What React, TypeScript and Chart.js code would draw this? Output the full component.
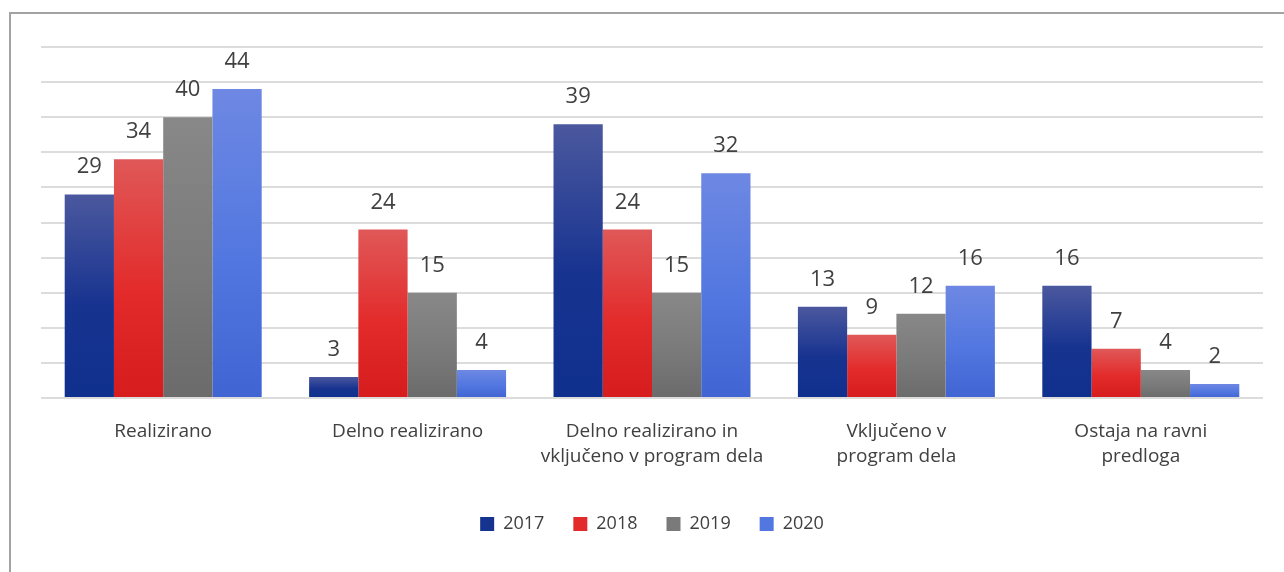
import React, { useEffect, useRef } from "react";
import { Chart, registerables } from "chart.js";

Chart.register(...registerables);

const categories: (string | string[])[] = [
  "Realizirano",
  "Delno realizirano",
  ["Delno realizirano in", "vključeno v program dela"],
  ["Vključeno v", "program dela"],
  ["Ostaja na ravni", "predloga"],
];
const years = ["2017", "2018", "2019", "2020"];
const values2017 = [29, 3, 39, 13, 16];
const values2018 = [34, 24, 24, 9, 7];
const values2019 = [40, 15, 15, 12, 4];
const values2020 = [44, 4, 32, 16, 2];

const palette = [
  ["#4b589e", "#173390", "#10308e"],
  ["#e05858", "#e32b2b", "#d61c1c"],
  ["#888888", "#7a7a7a", "#6b6b6b"],
  ["#6e88e3", "#5277e0", "#4064d2"],
];

const FONT = "'Open Sans', 'Noto Sans', sans-serif";
const TEXT = "#404040";

const grad = (cols: string[]) => (ctx: any) => {
  const chart = ctx.chart;
  if (!chart.chartArea || ctx.type !== "data") return cols[2];
  const y = chart.scales.y;
  const y0 = y.getPixelForValue(ctx.raw as number);
  const y1 = y.getPixelForValue(0);
  if (!isFinite(y0) || !isFinite(y1) || y0 === y1) return cols[2];
  const g = chart.ctx.createLinearGradient(0, y0, 0, y1);
  g.addColorStop(0, cols[0]);
  g.addColorStop(0.55, cols[1]);
  g.addColorStop(1, cols[2]);
  return g;
};

const framePlugin = {
  id: "frame",
  beforeDraw(chart: any) {
    const c = chart.ctx;
    c.save();
    c.fillStyle = "#ffffff";
    c.fillRect(0, 0, chart.width, chart.height);
    c.strokeStyle = "#a3a3a3";
    c.lineWidth = 2;
    c.beginPath();
    c.moveTo(10, chart.height);
    c.lineTo(10, 13);
    c.lineTo(chart.width, 13);
    c.stroke();
    c.restore();
  },
};

const labelPlugin = {
  id: "valueLabels",
  afterDatasetsDraw(chart: any) {
    const c = chart.ctx;
    c.save();
    c.font = `22px ${FONT}`;
    c.fillStyle = TEXT;
    c.textAlign = "center";
    c.textBaseline = "alphabetic";
    chart.data.datasets.forEach((ds: any, i: number) => {
      const meta = chart.getDatasetMeta(i);
      meta.data.forEach((el: any, j: number) => {
        c.fillText(String(ds.data[j]), el.x, el.y - 21);
      });
    });
    c.restore();
  },
};

export default function App() {
  const ref = useRef<HTMLCanvasElement>(null);
  useEffect(() => {
    if (!ref.current) return;
    const series = [values2017, values2018, values2019, values2020];
    const chart = new Chart(ref.current, {
      type: "bar",
      data: {
        labels: categories,
        datasets: series.map((d, i) => ({
          label: years[i],
          data: d,
          backgroundColor: grad(palette[i]),
          borderWidth: 0,
          categoryPercentage: 0.806,
          barPercentage: 1,
        })),
      },
      options: {
        responsive: false,
        animation: false,
        devicePixelRatio: 1,
        layout: { padding: { left: 41, right: 21, top: 47, bottom: 29 } },
        plugins: {
          tooltip: { enabled: false },
          legend: {
            position: "bottom",
            labels: {
              font: { family: FONT, size: 18 },
              color: TEXT,
              boxWidth: 14,
              boxHeight: 14,
              padding: 29,
              generateLabels: () =>
                years.map((y, i) => ({
                  text: y,
                  fillStyle: palette[i][1],
                  strokeStyle: palette[i][1],
                  lineWidth: 0,
                  hidden: false,
                  datasetIndex: i,
                  fontColor: TEXT,
                })),
            },
          },
        },
        scales: {
          x: {
            grid: { display: false, drawTicks: false },
            border: { display: false },
            afterFit: (scale: any) => {
              scale.height = 88;
            },
            ticks: {
              font: { family: FONT, size: 19, lineHeight: 1.32 },
              color: TEXT,
              padding: 21,
              maxRotation: 0,
              autoSkip: false,
            },
          },
          y: {
            min: 0,
            max: 50,
            ticks: { display: false, stepSize: 5 },
            grid: { color: "#dcdcdc", lineWidth: 2, drawTicks: false },
            border: { display: false },
          },
        },
      },
      plugins: [framePlugin, labelPlugin],
    });
    return () => chart.destroy();
  }, []);
  return (
    <div style={{ position: "fixed", left: 0, top: 0, width: 1284, height: 572 }}>
      <canvas ref={ref} width={1284} height={572} style={{ display: "block" }} />
    </div>
  );
}
